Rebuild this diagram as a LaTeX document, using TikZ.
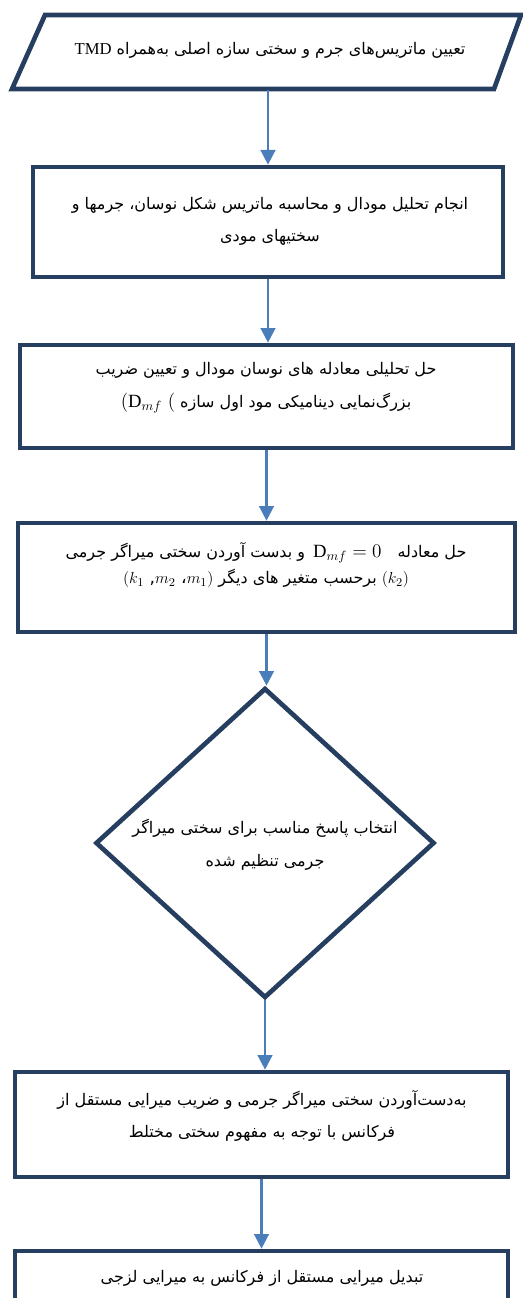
\documentclass[tikz,border=0pt]{standalone}
\usepackage{fontspec}
\setmainfont{Liberation Serif}
\newfontfamily\fa[Script=Arabic]{DejaVu Sans}
\TeXXeTstate=1
\usetikzlibrary{arrows.meta,shapes.geometric}
\definecolor{boxc}{HTML}{263F60}
\definecolor{arrc}{HTML}{4A7EBB}
\newcommand{\mymathbig}[1]{{\fontsize{14}{16}\selectfont$#1$}}
\begin{document}
\begin{tikzpicture}[x=0.75pt,y=-0.75pt,
  box/.style={draw=boxc, line width=3.5pt, rectangle, inner sep=0pt, fill=white},
  dia/.style={draw=boxc, line width=3.5pt, diamond, inner sep=0pt, fill=white},
  arr/.style={draw=arrc, line width=1.8pt, -{Triangle[width=11pt,length=11pt]}},
  txt/.style={font=\fa\fontsize{12}{24.5}\selectfont, align=center, inner sep=0pt}]
\useasboundingbox[fill=white] (0,0) rectangle (523,1298);
\clip (0,0) rectangle (523,1298);
% parallelogram
\draw[draw=boxc, line width=3.5pt, line join=miter] (12,89) -- (45,15) -- (521,15) -- (494,89) -- cycle;
\coordinate (pb) at (268,90.5);
\node[txt] (t1) at (270,50) {\beginR تعیین ماتریس‌های جرم و سختی سازه اصلی به‌همراه \beginL{\rmfamily\fontsize{12.5}{14}\selectfont TMD}\endL\endR};
% boxes
\node[box, minimum width=352.5pt, minimum height=82.5pt] (b2) at (268,222) {};
\node[txt] (t2) at (270,221.5) {\beginR انجام تحلیل مودال و محاسبه ماتریس شکل نوسان، جرمها و\endR\\\beginR سختیهای مودی\endR};
\node[box, minimum width=369.75pt, minimum height=77.25pt] (b3) at (266.5,396.5) {};
\node[txt] (t3) at (266,387.5) {\beginR حل تحلیلی معادله های نوسان مودال و تعیین ضریب\endR\\\beginR بزرگ‌نمایی دینامیکی مود اول سازه \beginL\mymathbig{(\mathrm{D}_{mf}\ (}\endL\endR};
\node[box, minimum width=372.75pt, minimum height=81.75pt] (b4) at (266.5,577.5) {};
\node[txt, font=\fa\fontsize{12}{20}\selectfont] (t4) at (266,565) {\beginR حل معادله\quad\beginL\mymathbig{\mathrm{D}_{mf}=0}\endL\enspace و بدست آوردن سختی میراگر جرمی\endR\\\beginR\beginL{\fontsize{13}{15}\selectfont$(k_2)$}\endL\ برحسب متغیر های دیگر \beginL{\fontsize{13}{15}\selectfont$(k_1$ ,$m_2$ {\fa ،}$m_1)$}\endL\endR};
\node[dia, minimum width=254.25pt, minimum height=232.5pt] (d5) at (265,843) {};
\node[txt] (t5) at (265,845) {\beginR انتخاب پاسخ مناسب برای سختی میراگر\endR\\\beginR جرمی تنظیم شده\endR};
\node[box, minimum width=369.75pt, minimum height=78.75pt] (b6) at (261.5,1124.5) {};
\node[txt] (t6) at (262,1116) {\beginR به‌دست‌آوردن سختی میراگر جرمی و ضریب میرایی مستقل از\endR\\\beginR فرکانس با توجه به مفهوم سختی مختلط\endR};
\node[box, minimum width=369.75pt, minimum height=67.5pt] (b7) at (261.5,1296) {};
\node[txt] (t7) at (262,1278) {\beginR تبدیل میرایی مستقل از فرکانس به میرایی لزجی\endR};
% arrows
\draw[arr] (pb) -- (pb |- b2.north);
\draw[arr] (b2.south) -- (b2.south |- b3.north);
\draw[arr] (b3.south) -- (b3.south |- b4.north);
\draw[arr] (b4.south) -- (b4.south |- d5.north);
\draw[arr] (d5.south) -- (d5.south |- b6.north);
\draw[arr] (b6.south) -- (b6.south |- b7.north);
\end{tikzpicture}
\end{document}
